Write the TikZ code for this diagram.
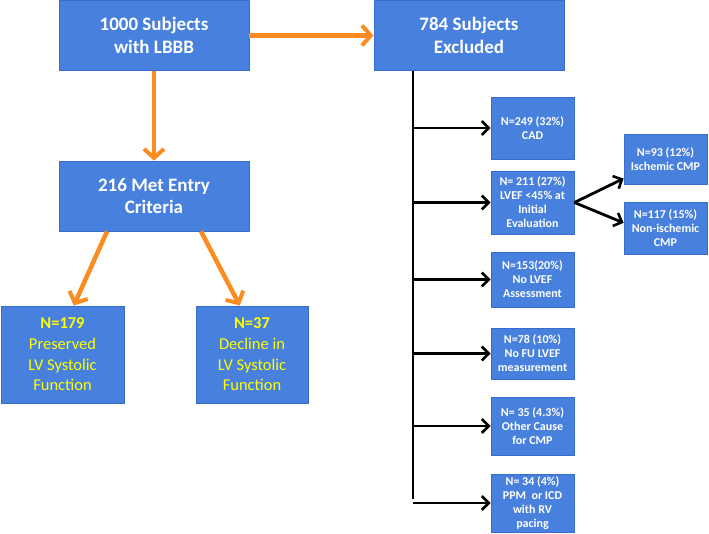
\documentclass[tikz,border=0pt]{standalone}
\usepackage{fontspec}
\setmainfont{Carlito}
\usepackage{tikz}
\usetikzlibrary{arrows.meta}
\usetikzlibrary{calc}

\definecolor{boxblue}{RGB}{72,128,222}
\definecolor{boxedge}{RGB}{58,108,205}
\definecolor{flowgold}{RGB}{252,140,32}
\definecolor{textyellow}{RGB}{255,255,0}

\begin{document}
\begin{tikzpicture}[x=1pt,y=1pt,yscale=-1]
            \tikzstyle{every node}=[font=\bfseries]
            \tikzstyle{blockbox}=[draw=boxedge,line width=0.8pt,fill=boxblue,text=white,align=center,inner sep=1pt]
            \tikzstyle{bigbox}=[blockbox,minimum width=190pt,minimum height=70pt,font=\fontsize{19}{22.5}\selectfont\bfseries]
            \tikzstyle{endbox}=[blockbox,minimum height=97pt,text=textyellow,font=\fontsize{16.5}{20.7}\selectfont]
            \tikzstyle{smallbox}=[blockbox,minimum width=83pt,font=\fontsize{12}{14}\selectfont\bfseries]
            \tikzstyle{flowarrow}=[draw=flowgold,line width=4.5pt,-{Straight Barb[length=9pt,width=20pt,line width=4pt]}]
            \tikzstyle{exarrow}=[draw=black,line width=2.8pt,-{Straight Barb[length=7pt,width=14pt,line width=2.6pt]}]
            \useasboundingbox (0,0) rectangle (709,534);

            % Main column
            \node [bigbox] (all) at (154,35.5) {1000 Subjects\\with LBBB};
            \node [bigbox] (excl) at (469,35.5) {784 Subjects\\Excluded};
            \node [bigbox] (entry) at (154,196) {216 Met Entry\\Criteria};
            \node [endbox,minimum width=123pt] (pres) at (62.5,354.5) {\textbf{N=179}\\Preserved\\LV Systolic\\Function};
            \node [endbox,minimum width=112pt] (decl) at (252,354.5) {\textbf{N=37}\\Decline in\\LV Systolic\\Function};

            % Exclusion reasons
            \node [smallbox,minimum height=62pt] (cad) at (532.5,128) {N=249 (32\%)\\CAD};
            \node [smallbox,minimum height=63pt] (lvef) at (532.5,202.5) {N= 211 (27\%)\\LVEF <45\% at\\Initial\\Evaluation};
            \node [smallbox,minimum height=55pt] (nolvef) at (532.5,279.5) {N=153(20\%)\\No LVEF\\Assessment};
            \node [smallbox,minimum height=51pt] (nofu) at (532.5,353.5) {N=78 (10\%)\\No FU LVEF\\measurement};
            \node [smallbox,minimum height=58pt] (other) at (532.5,426) {N= 35 (4.3\%)\\Other Cause\\for CMP};
            \node [smallbox,minimum height=58pt] (ppm) at (532.5,503) {N= 34 (4\%)\\PPM\ \ or ICD\\with RV\\pacing};
            \node [smallbox,minimum height=50pt] (isch) at (665.5,159) {N=93 (12\%)\\Ischemic CMP};
            \node [smallbox,minimum height=52pt] (nonisch) at (665.5,228) {N=117 (15\%)\\Non-ischemic\\CMP};

            % Orange flow
            \draw [flowarrow] (all.east) -- (excl.west);
            \draw [flowarrow] (all.south) -- (entry.north);
            \draw [flowarrow] (entry.217) -- (pres.77);
            \draw [flowarrow] (entry.-37) -- (decl.104);

            % Black trunk
            \coordinate (trunk) at (413,499);
            \draw [draw=black,line width=2.8pt] (excl.south -| trunk) -- (trunk);
            \foreach \reason in {cad,lvef,nolvef,nofu,other,ppm}
                \draw [exarrow] (\reason.west -| trunk) -- (\reason.west);
            \draw [exarrow] (lvef.east) -- (isch.205);
            \draw [exarrow] (lvef.east) -- (nonisch.173);
        \end{tikzpicture}
\end{document}
